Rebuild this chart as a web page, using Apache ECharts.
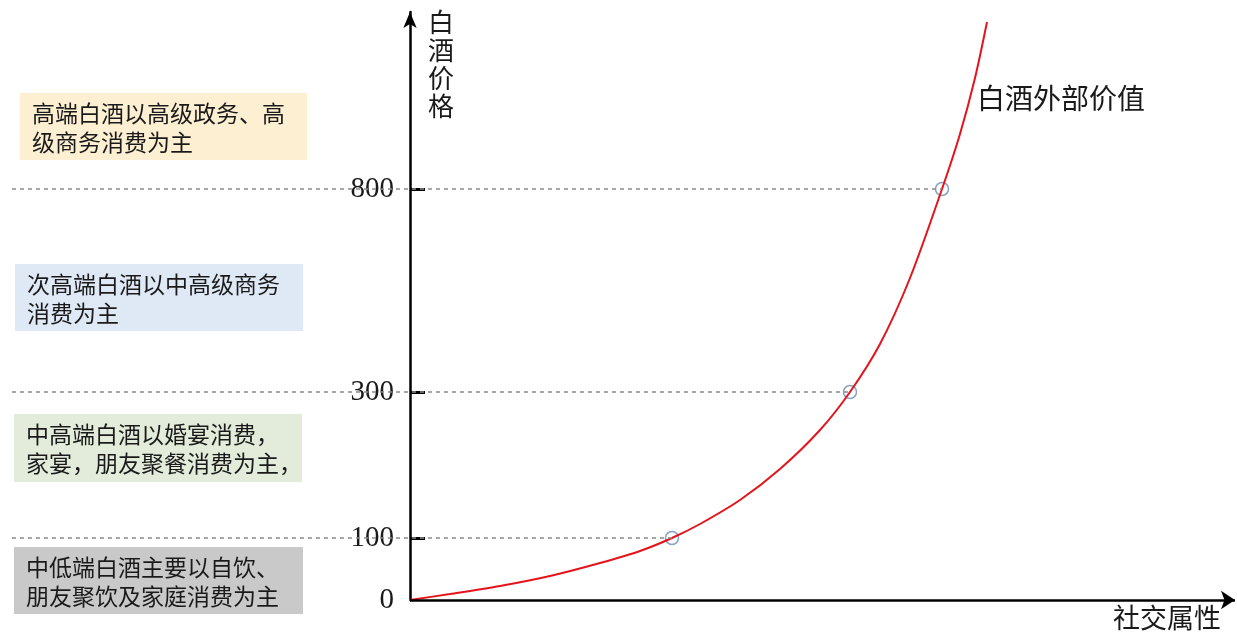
<!DOCTYPE html>
<html><head><meta charset="utf-8">
<script src="https://cdn.jsdelivr.net/npm/echarts@6/dist/echarts.min.js"></script>
<style>html,body{margin:0;padding:0;background:#fff}#c{width:1237px;height:634px}</style>
</head><body><div id="c"></div>
<script>
// y-axis levels (position on the schematic axis) and their price labels
const levelPos = [0, 62, 208, 411];
const tickLabels = ['0', '100', '300', '800'];
// red curve: "白酒外部价值" (social attribute vs price position)
const curveX = [0, 40, 90, 140, 190, 230, 262, 290, 330, 370, 410, 440, 470, 500, 532, 550, 565, 577];
const curveY = [0, 6, 14, 24, 37, 49, 62, 76, 100, 131, 170, 208, 256, 322, 411, 466, 522, 578];
// marked points on the curve (price levels 100, 300, 800)
const pointX = [262, 440, 532];
const pointY = [62, 208, 411];
// segment descriptions
const segTexts = [
  '高端白酒以高级政务、高\n级商务消费为主',
  '次高端白酒以中高级商务\n消费为主',
  '中高端白酒以婚宴消费，\n家宴，朋友聚餐消费为主，',
  '中低端白酒主要以自饮、\n朋友聚饮及家庭消费为主'
];
const yName = '白酒价格';
const xName = '社交属性';
const curveName = '白酒外部价值';

const chart = echarts.init(document.getElementById('c'));
const labelMap = {};
levelPos.forEach((p, i) => labelMap[p] = tickLabels[i]);

const boxColors = ['#fcefd2', '#dfe9f5', '#e3ecda', '#c9c9c9'];
const boxRects = [[20, 93, 287, 67], [15, 264, 288, 67], [14, 414, 288, 68], [14, 547, 289, 67]];
const cjk = '"Noto Sans CJK SC", sans-serif';

const graphics = [];
segTexts.forEach((t, i) => {
  const r = boxRects[i];
  graphics.push({type: 'rect', shape: {x: r[0], y: r[1], width: r[2], height: r[3]}, style: {fill: boxColors[i]}, z: 1});
  graphics.push({type: 'text', x: r[0] + 12, y: r[1] + 6, style: {text: t, fontSize: 23, lineHeight: 29, fill: '#1a1a1a', fontFamily: cjk}, z: 2});
});
graphics.push({type: 'text', x: 428, y: 8, style: {text: yName.split('').join('\n'), fontSize: 26, lineHeight: 28, fill: '#1a1a1a', fontFamily: cjk}});
graphics.push({type: 'text', x: 1113, y: 604, style: {text: xName, fontSize: 27, fill: '#1a1a1a', fontFamily: cjk}});
graphics.push({type: 'text', x: 977, y: 84, style: {text: curveName, fontSize: 28, fill: '#1a1a1a', fontFamily: cjk}});

chart.setOption({
  animation: false,
  backgroundColor: '#fff',
  grid: {left: 12, right: 2, top: 12, bottom: 34, containLabel: false, outerBoundsMode: 'none'},
  xAxis: {type: 'value', min: -398, max: 825, show: false},
  yAxis: {
    type: 'value', min: 0, max: 588, offset: -398, position: 'left',
    axisLine: {show: true, onZero: false, symbol: ['none', 'arrow'], symbolSize: [10, 16], lineStyle: {color: '#000', width: 2.5}},
    axisTick: {show: true, inside: true, length: 15, customValues: levelPos.slice(1), lineStyle: {color: '#000', width: 3}},
    axisLabel: {show: true, customValues: levelPos, margin: 16, formatter: v => labelMap[v] || '', fontFamily: '"Liberation Serif", serif', fontSize: 29, color: '#1a1a1a'},
    splitLine: {show: false}
  },
  graphic: graphics,
  series: [
    {
      type: 'scatter', name: 'points', z: 2,
      data: pointX.map((x, i) => [x, pointY[i]]),
      symbol: 'circle', symbolSize: 13,
      itemStyle: {color: 'rgba(255,255,255,0)', borderColor: '#6a8bb0', borderWidth: 1.5},
      markLine: {
        silent: true, symbol: ['none', 'none'], label: {show: false},
        lineStyle: {type: [4, 4], color: '#8a8a8a', width: 1.5},
        data: pointX.map((x, i) => [{coord: [-398, pointY[i]]}, {coord: [x, pointY[i]]}])
      }
    },
    {
      type: 'line', name: curveName, z: 3,
      data: curveX.map((x, i) => [x, curveY[i]]),
      showSymbol: false, smooth: 0.3,
      lineStyle: {color: '#e3141c', width: 2}
    },
    {
      type: 'line', name: 'xaxis', z: 4, data: [[0, 0]], showSymbol: false,
      markLine: {
        silent: true, symbol: ['none', 'arrow'], symbolSize: 14, label: {show: false},
        lineStyle: {type: 'solid', color: '#000', width: 2.5},
        data: [[{coord: [0, 0]}, {coord: [825, 0]}]]
      }
    }
  ]
});
</script></body></html>
